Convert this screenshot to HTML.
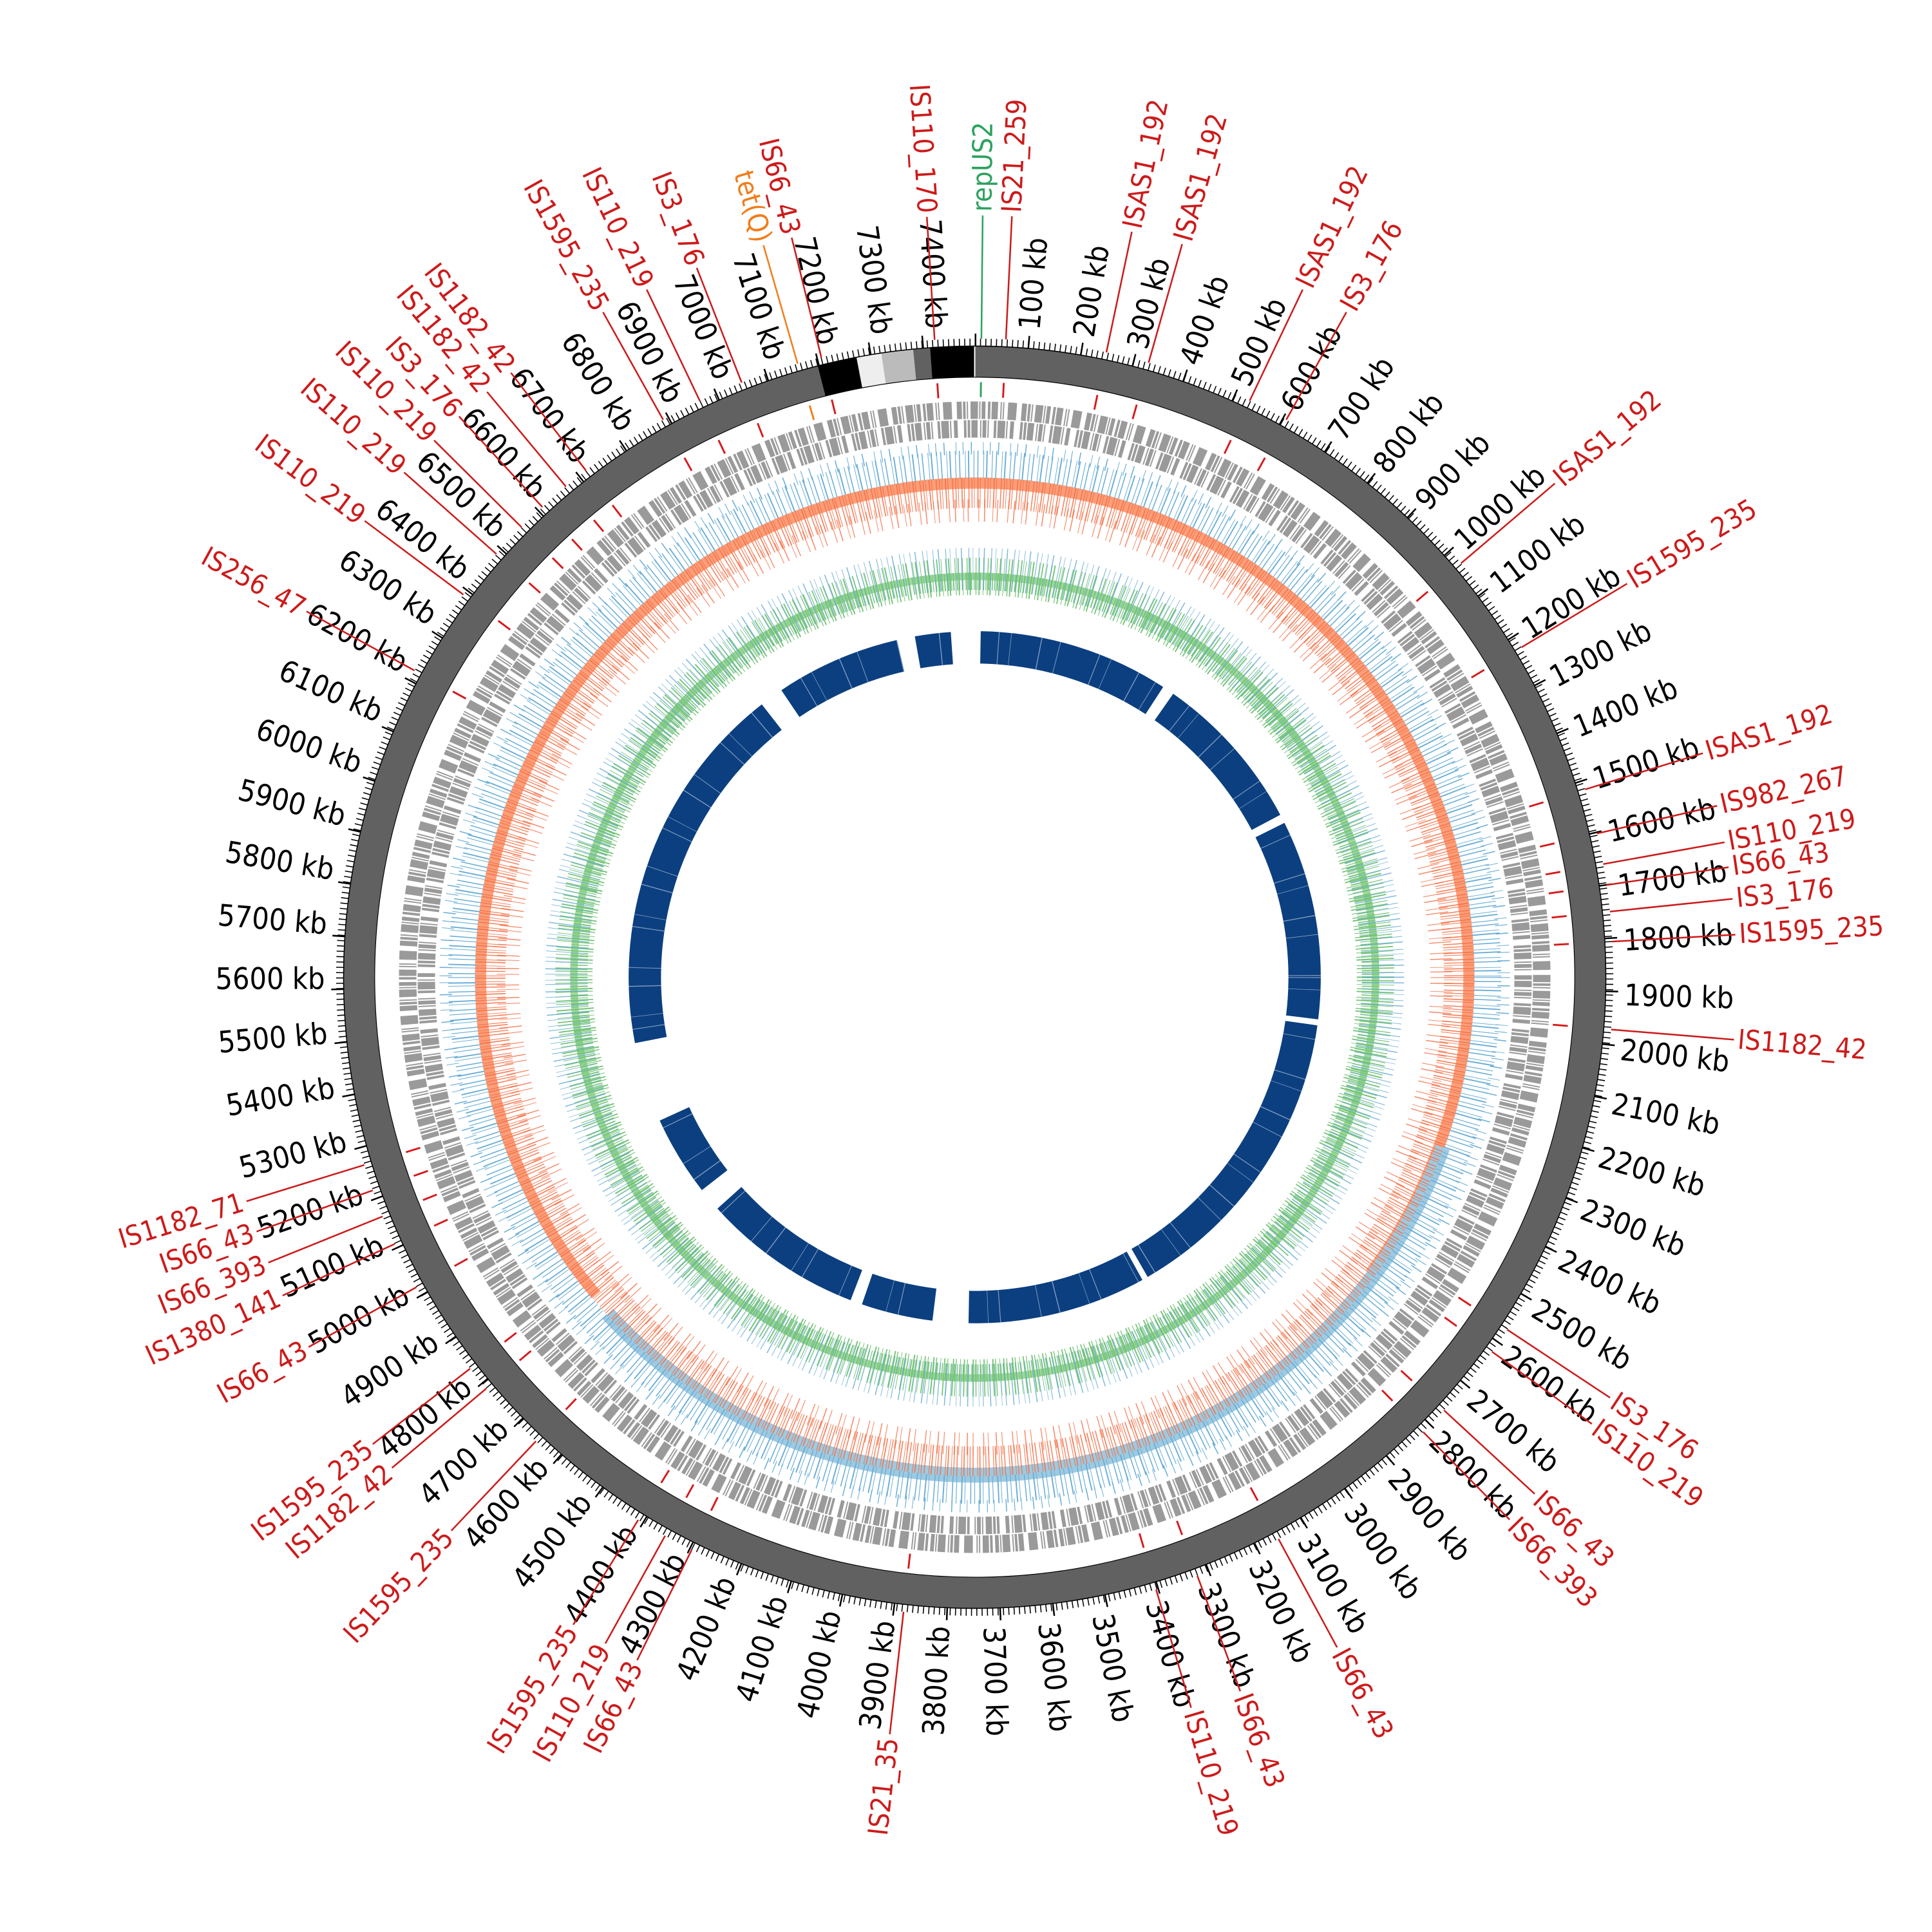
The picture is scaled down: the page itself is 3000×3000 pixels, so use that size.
<!DOCTYPE html>
<html><head><meta charset="utf-8">
<style>
html,body{margin:0;padding:0;background:#fff;}
svg{display:block;}
text{font-family:"DejaVu Sans Condensed","Liberation Sans Narrow","Liberation Sans",sans-serif;dominant-baseline:central;}
.t{font-size:24px;fill:#000;}
.s{font-size:22px;fill:#cc1b1b;}
.ld{stroke:#cc1b1b;stroke-width:1.3;}
.mk{stroke:#d7191c;stroke-width:1.5;}
</style></head>
<body>
<svg width="3000" height="3000" viewBox="0 0 1552 1552" xmlns="http://www.w3.org/2000/svg">
<rect width="1552" height="1552" fill="#fff"/>
<g transform="translate(783,785)">
 <!-- navy track -->
 <circle r="265" fill="none" stroke="#0b3f80" stroke-width="26" transform="rotate(-89)" stroke-dasharray="148 9.25 124.9 6.94 154.9 4.63 240.5 4.63 138.8 27.75 55.5 9.25 124.9 18.5 62.4 62.4 291.4 18.5 97.1 13.9 27.75 23.1"/>
 <circle r="265" fill="none" stroke="#fff" stroke-width="26" stroke-dasharray="0.6 9 0.4 23 0.7 14 0.5 31" opacity="0.5"/>
 <!-- green track -->
 <circle r="322" fill="none" stroke="#a1d99b" stroke-width="6"/>
 <circle r="322" fill="none" stroke="#74c476" stroke-width="30" stroke-dasharray="0.6 1.8 0.9 2.6 0.5 3 0.7 1.4 1 4"/>
 <circle r="318" fill="none" stroke="#74c476" stroke-width="14" stroke-dasharray="0.8 1.2 0.6 1.5 1 2"/>
 <circle r="328" fill="none" stroke="#6baed6" stroke-width="34" stroke-dasharray="0.5 3.5 0.8 5 0.6 2.8 0.4 4.2" opacity="0.85"/>
 <!-- orange/blue track -->
 <circle r="397" fill="none" stroke="#fc8d62" stroke-width="9" transform="rotate(140)" stroke-dasharray="1779 1000" opacity="0.85"/>
 <circle r="400" fill="none" stroke="#9ecae1" stroke-width="12" transform="rotate(20)" stroke-dasharray="820 3000"/>
 <circle r="389" fill="none" stroke="#f46d43" stroke-width="24" stroke-dasharray="0.7 1.3 0.5 2.2 0.9 1.1 0.6 3 0.8 1.7" opacity="0.85"/>
 <circle r="375" fill="none" stroke="#f46d43" stroke-width="18" stroke-dasharray="0.6 4 0.8 6 0.5 3 0.7 8" opacity="0.8"/>
 <circle r="412" fill="none" stroke="#6baed6" stroke-width="22" stroke-dasharray="0.6 2.5 0.8 4 0.5 1.8 1 3.5"/>
 <circle r="425" fill="none" stroke="#6baed6" stroke-width="10" stroke-dasharray="0.6 6 0.8 9 0.5 5"/>
 <!-- gene tracks -->
 <circle r="455.5" fill="none" stroke="#9a9a9a" stroke-width="14" stroke-dasharray="4 1 2 1 1 2 6 1 1 1 3 2 2 1 5 2 1 1 1 3 7 4"/>
 <circle r="440.5" fill="none" stroke="#9a9a9a" stroke-width="14" stroke-dasharray="2 1 5 2 1 1 3 1 1 4 2 1 6 1 1 2 3 5 2 1"/>
 <!-- outer ring -->
 <circle r="494.5" fill="none" stroke="#616161" stroke-width="25"/>
 <circle r="494.5" fill="none" stroke="#000" stroke-width="25" transform="rotate(-104.4)" stroke-dasharray="31.07 5000"/>
 <circle r="494.5" fill="none" stroke="#eeeeee" stroke-width="25" transform="rotate(-100.8)" stroke-dasharray="19.85 5000"/>
 <circle r="494.5" fill="none" stroke="#bbbbbb" stroke-width="25" transform="rotate(-98.5)" stroke-dasharray="25.03 5000"/>
 <circle r="494.5" fill="none" stroke="#000" stroke-width="25" transform="rotate(-94.05)" stroke-dasharray="34.95 5000"/>
 <line x1="0" y1="-482" x2="0" y2="-507" stroke="#fff" stroke-width="1"/>
 <circle r="507" fill="none" stroke="#000" stroke-width="0.8"/>
 <circle r="482" fill="none" stroke="#000" stroke-width="0.6"/>
 <!-- ticks -->
 <circle r="510" fill="none" stroke="#000" stroke-width="6" transform="rotate(-90)" stroke-dasharray="0.8 3.4897"/>
 <circle r="512" fill="none" stroke="#000" stroke-width="10" transform="rotate(-90)" stroke-dasharray="1.3 41.597"/>

 <!-- tick labels right -->
 <g transform="rotate(-85.18)"><text class="t" x="522">100 kb</text></g>
 <g transform="rotate(-80.36)"><text class="t" x="522">200 kb</text></g>
 <g transform="rotate(-75.54)"><text class="t" x="522">300 kb</text></g>
 <g transform="rotate(-70.72)"><text class="t" x="522">400 kb</text></g>
 <g transform="rotate(-65.9)"><text class="t" x="522">500 kb</text></g>
 <g transform="rotate(-61.08)"><text class="t" x="522">600 kb</text></g>
 <g transform="rotate(-56.26)"><text class="t" x="522">700 kb</text></g>
 <g transform="rotate(-51.45)"><text class="t" x="522">800 kb</text></g>
 <g transform="rotate(-46.63)"><text class="t" x="522">900 kb</text></g>
 <g transform="rotate(-41.81)"><text class="t" x="522">1000 kb</text></g>
 <g transform="rotate(-36.99)"><text class="t" x="522">1100 kb</text></g>
 <g transform="rotate(-32.17)"><text class="t" x="522">1200 kb</text></g>
 <g transform="rotate(-27.35)"><text class="t" x="522">1300 kb</text></g>
 <g transform="rotate(-22.53)"><text class="t" x="522">1400 kb</text></g>
 <g transform="rotate(-17.71)"><text class="t" x="522">1500 kb</text></g>
 <g transform="rotate(-12.89)"><text class="t" x="522">1600 kb</text></g>
 <g transform="rotate(-8.07)"><text class="t" x="522">1700 kb</text></g>
 <g transform="rotate(-3.25)"><text class="t" x="522">1800 kb</text></g>
 <g transform="rotate(1.57)"><text class="t" x="522">1900 kb</text></g>
 <g transform="rotate(6.39)"><text class="t" x="522">2000 kb</text></g>
 <g transform="rotate(11.21)"><text class="t" x="522">2100 kb</text></g>
 <g transform="rotate(16.02)"><text class="t" x="522">2200 kb</text></g>
 <g transform="rotate(20.84)"><text class="t" x="522">2300 kb</text></g>
 <g transform="rotate(25.66)"><text class="t" x="522">2400 kb</text></g>
 <g transform="rotate(30.48)"><text class="t" x="522">2500 kb</text></g>
 <g transform="rotate(35.3)"><text class="t" x="522">2600 kb</text></g>
 <g transform="rotate(40.12)"><text class="t" x="522">2700 kb</text></g>
 <g transform="rotate(44.94)"><text class="t" x="522">2800 kb</text></g>
 <g transform="rotate(49.76)"><text class="t" x="522">2900 kb</text></g>
 <g transform="rotate(54.58)"><text class="t" x="522">3000 kb</text></g>
 <g transform="rotate(59.4)"><text class="t" x="522">3100 kb</text></g>
 <g transform="rotate(64.22)"><text class="t" x="522">3200 kb</text></g>
 <g transform="rotate(69.04)"><text class="t" x="522">3300 kb</text></g>
 <g transform="rotate(73.86)"><text class="t" x="522">3400 kb</text></g>
 <g transform="rotate(78.68)"><text class="t" x="522">3500 kb</text></g>
 <g transform="rotate(83.49)"><text class="t" x="522">3600 kb</text></g>
 <g transform="rotate(88.31)"><text class="t" x="522">3700 kb</text></g>
 <!-- tick labels left -->
 <g transform="rotate(93.13)"><text class="t" transform="translate(522,0) rotate(180)" text-anchor="end">3800 kb</text></g>
 <g transform="rotate(97.95)"><text class="t" transform="translate(522,0) rotate(180)" text-anchor="end">3900 kb</text></g>
 <g transform="rotate(102.77)"><text class="t" transform="translate(522,0) rotate(180)" text-anchor="end">4000 kb</text></g>
 <g transform="rotate(107.59)"><text class="t" transform="translate(522,0) rotate(180)" text-anchor="end">4100 kb</text></g>
 <g transform="rotate(112.41)"><text class="t" transform="translate(522,0) rotate(180)" text-anchor="end">4200 kb</text></g>
 <g transform="rotate(117.23)"><text class="t" transform="translate(522,0) rotate(180)" text-anchor="end">4300 kb</text></g>
 <g transform="rotate(122.05)"><text class="t" transform="translate(522,0) rotate(180)" text-anchor="end">4400 kb</text></g>
 <g transform="rotate(126.87)"><text class="t" transform="translate(522,0) rotate(180)" text-anchor="end">4500 kb</text></g>
 <g transform="rotate(131.69)"><text class="t" transform="translate(522,0) rotate(180)" text-anchor="end">4600 kb</text></g>
 <g transform="rotate(136.51)"><text class="t" transform="translate(522,0) rotate(180)" text-anchor="end">4700 kb</text></g>
 <g transform="rotate(141.33)"><text class="t" transform="translate(522,0) rotate(180)" text-anchor="end">4800 kb</text></g>
 <g transform="rotate(146.15)"><text class="t" transform="translate(522,0) rotate(180)" text-anchor="end">4900 kb</text></g>
 <g transform="rotate(150.97)"><text class="t" transform="translate(522,0) rotate(180)" text-anchor="end">5000 kb</text></g>
 <g transform="rotate(155.78)"><text class="t" transform="translate(522,0) rotate(180)" text-anchor="end">5100 kb</text></g>
 <g transform="rotate(160.6)"><text class="t" transform="translate(522,0) rotate(180)" text-anchor="end">5200 kb</text></g>
 <g transform="rotate(165.42)"><text class="t" transform="translate(522,0) rotate(180)" text-anchor="end">5300 kb</text></g>
 <g transform="rotate(170.24)"><text class="t" transform="translate(522,0) rotate(180)" text-anchor="end">5400 kb</text></g>
 <g transform="rotate(175.06)"><text class="t" transform="translate(522,0) rotate(180)" text-anchor="end">5500 kb</text></g>
 <g transform="rotate(179.88)"><text class="t" transform="translate(522,0) rotate(180)" text-anchor="end">5600 kb</text></g>
 <g transform="rotate(184.7)"><text class="t" transform="translate(522,0) rotate(180)" text-anchor="end">5700 kb</text></g>
 <g transform="rotate(189.52)"><text class="t" transform="translate(522,0) rotate(180)" text-anchor="end">5800 kb</text></g>
 <g transform="rotate(194.34)"><text class="t" transform="translate(522,0) rotate(180)" text-anchor="end">5900 kb</text></g>
 <g transform="rotate(199.16)"><text class="t" transform="translate(522,0) rotate(180)" text-anchor="end">6000 kb</text></g>
 <g transform="rotate(203.98)"><text class="t" transform="translate(522,0) rotate(180)" text-anchor="end">6100 kb</text></g>
 <g transform="rotate(208.8)"><text class="t" transform="translate(522,0) rotate(180)" text-anchor="end">6200 kb</text></g>
 <g transform="rotate(213.62)"><text class="t" transform="translate(522,0) rotate(180)" text-anchor="end">6300 kb</text></g>
 <g transform="rotate(218.44)"><text class="t" transform="translate(522,0) rotate(180)" text-anchor="end">6400 kb</text></g>
 <g transform="rotate(223.25)"><text class="t" transform="translate(522,0) rotate(180)" text-anchor="end">6500 kb</text></g>
 <g transform="rotate(228.07)"><text class="t" transform="translate(522,0) rotate(180)" text-anchor="end">6600 kb</text></g>
 <g transform="rotate(232.89)"><text class="t" transform="translate(522,0) rotate(180)" text-anchor="end">6700 kb</text></g>
 <g transform="rotate(237.71)"><text class="t" transform="translate(522,0) rotate(180)" text-anchor="end">6800 kb</text></g>
 <g transform="rotate(242.53)"><text class="t" transform="translate(522,0) rotate(180)" text-anchor="end">6900 kb</text></g>
 <g transform="rotate(247.35)"><text class="t" transform="translate(522,0) rotate(180)" text-anchor="end">7000 kb</text></g>
 <g transform="rotate(252.17)"><text class="t" transform="translate(522,0) rotate(180)" text-anchor="end">7100 kb</text></g>
 <g transform="rotate(256.99)"><text class="t" transform="translate(522,0) rotate(180)" text-anchor="end">7200 kb</text></g>
 <g transform="rotate(261.81)"><text class="t" transform="translate(522,0) rotate(180)" text-anchor="end">7300 kb</text></g>
 <g transform="rotate(266.63)"><text class="t" transform="translate(522,0) rotate(180)" text-anchor="end">7400 kb</text></g>

 <!-- feature labels right half -->
 <g transform="rotate(-87.2)"><line class="mk" x1="466" x2="478"/><line class="ld" x1="513" x2="612"/><text class="s" x="615">IS21_259</text></g>
 <g transform="rotate(-89.4)"><line x1="466" x2="478" stroke="#2ca25f" stroke-width="1.5"/><line x1="513" x2="612" stroke="#2ca25f" stroke-width="1.3"/><text class="s" x="615" style="fill:#2ca25f">repUS2</text></g>
 <g transform="rotate(-78.1)"><line class="mk" x1="466" x2="478"/><line class="ld" x1="513" x2="612"/><text class="s" x="615">ISAS1_192</text></g>
 <g transform="rotate(-74.2)"><line class="mk" x1="466" x2="478"/><line class="ld" x1="513" x2="612"/><text class="s" x="615">ISAS1_192</text></g>
 <g transform="rotate(-64.5)"><line class="mk" x1="466" x2="478"/><line class="ld" x1="513" x2="612"/><text class="s" x="615">ISAS1_192</text></g>
 <g transform="rotate(-60.8)"><line class="mk" x1="466" x2="478"/><line class="ld" x1="513" x2="612"/><text class="s" x="615">IS3_176</text></g>
 <g transform="rotate(-40.4)"><line class="mk" x1="466" x2="478"/><line class="ld" x1="513" x2="612"/><text class="s" x="615">ISAS1_192</text></g>
 <g transform="rotate(-31.1)"><line class="mk" x1="466" x2="478"/><line class="ld" x1="513" x2="612"/><text class="s" x="615">IS1595_235</text></g>
 <g transform="rotate(-17.1)"><line class="mk" x1="466" x2="478"/><line class="ld" x1="513" x2="612"/><text class="s" x="615">ISAS1_192</text></g>
 <g transform="rotate(-13)"><line class="mk" x1="466" x2="478"/><line class="ld" x1="513" x2="612"/><text class="s" x="615">IS982_267</text></g>
 <g transform="rotate(-10.2)"><line class="mk" x1="466" x2="478"/><line class="ld" x1="513" x2="612"/><text class="s" x="615">IS110_219</text></g>
 <g transform="rotate(-8.3)"><line class="mk" x1="466" x2="478"/><line class="ld" x1="513" x2="612"/><text class="s" x="615">IS66_43</text></g>
 <g transform="rotate(-5.9)"><line class="mk" x1="466" x2="478"/><line class="ld" x1="513" x2="612"/><text class="s" x="615">IS3_176</text></g>
 <g transform="rotate(-3.2)"><line class="mk" x1="466" x2="478"/><line class="ld" x1="513" x2="612"/><text class="s" x="615">IS1595_235</text></g>
 <g transform="rotate(4.7)"><line class="mk" x1="466" x2="478"/><line class="ld" x1="513" x2="612"/><text class="s" x="615">IS1182_42</text></g>
 <g transform="rotate(33.5)"><line class="mk" x1="466" x2="478"/><line class="ld" x1="513" x2="612"/><text class="s" x="615">IS3_176</text></g>
 <g transform="rotate(35.9)"><line class="mk" x1="466" x2="478"/><line class="ld" x1="513" x2="612"/><text class="s" x="615">IS110_219</text></g>
 <g transform="rotate(42.7)"><line class="mk" x1="466" x2="478"/><line class="ld" x1="513" x2="612"/><text class="s" x="615">IS66_43</text></g>
 <g transform="rotate(45.4)"><line class="mk" x1="466" x2="478"/><line class="ld" x1="513" x2="612"/><text class="s" x="615">IS66_393</text></g>
 <g transform="rotate(61.6)"><line class="mk" x1="466" x2="478"/><line class="ld" x1="513" x2="612"/><text class="s" x="615">IS66_43</text></g>
 <g transform="rotate(69.6)"><line class="mk" x1="466" x2="478"/><line class="ld" x1="513" x2="612"/><text class="s" x="615">IS66_43</text></g>
 <g transform="rotate(73.5)"><line class="mk" x1="466" x2="478"/><line class="ld" x1="513" x2="612"/><text class="s" x="615">IS110_219</text></g>
 <!-- feature labels left half -->
 <g transform="rotate(96.4)"><line class="mk" x1="466" x2="478"/><line class="ld" x1="513" x2="612"/><text class="s" transform="translate(615,0) rotate(180)" text-anchor="end">IS21_35</text></g>
 <g transform="rotate(116.3)"><line class="mk" x1="466" x2="478"/><line class="ld" x1="513" x2="612"/><text class="s" transform="translate(615,0) rotate(180)" text-anchor="end">IS66_43</text></g>
 <g transform="rotate(119)"><line class="mk" x1="466" x2="478"/><line class="ld" x1="513" x2="612"/><text class="s" transform="translate(615,0) rotate(180)" text-anchor="end">IS110_219</text></g>
 <g transform="rotate(121.8)"><line class="mk" x1="466" x2="478"/><line class="ld" x1="513" x2="612"/><text class="s" transform="translate(615,0) rotate(180)" text-anchor="end">IS1595_235</text></g>
 <g transform="rotate(133.4)"><line class="mk" x1="466" x2="478"/><line class="ld" x1="513" x2="612"/><text class="s" transform="translate(615,0) rotate(180)" text-anchor="end">IS1595_235</text></g>
 <g transform="rotate(139.9)"><line class="mk" x1="466" x2="478"/><line class="ld" x1="513" x2="612"/><text class="s" transform="translate(615,0) rotate(180)" text-anchor="end">IS1182_42</text></g>
 <g transform="rotate(142.2)"><line class="mk" x1="466" x2="478"/><line class="ld" x1="513" x2="612"/><text class="s" transform="translate(615,0) rotate(180)" text-anchor="end">IS1595_235</text></g>
 <g transform="rotate(150.96)"><line class="mk" x1="466" x2="478"/><line class="ld" x1="513" x2="612"/><text class="s" transform="translate(615,0) rotate(180)" text-anchor="end">IS66_43</text></g>
 <g transform="rotate(155.3)"><line class="mk" x1="466" x2="478"/><line class="ld" x1="513" x2="612"/><text class="s" transform="translate(615,0) rotate(180)" text-anchor="end">IS1380_141</text></g>
 <g transform="rotate(158)"><line class="mk" x1="466" x2="478"/><line class="ld" x1="513" x2="612"/><text class="s" transform="translate(615,0) rotate(180)" text-anchor="end">IS66_393</text></g>
 <g transform="rotate(160.5)"><line class="mk" x1="466" x2="478"/><line class="ld" x1="513" x2="612"/><text class="s" transform="translate(615,0) rotate(180)" text-anchor="end">IS66_43</text></g>
 <g transform="rotate(162.9)"><line class="mk" x1="466" x2="478"/><line class="ld" x1="513" x2="612"/><text class="s" transform="translate(615,0) rotate(180)" text-anchor="end">IS1182_71</text></g>
 <g transform="rotate(208.7)"><line class="mk" x1="466" x2="478"/><line class="ld" x1="513" x2="612"/><text class="s" transform="translate(615,0) rotate(180)" text-anchor="end">IS256_47</text></g>
 <g transform="rotate(216.8)"><line class="mk" x1="466" x2="478"/><line class="ld" x1="513" x2="612"/><text class="s" transform="translate(615,0) rotate(180)" text-anchor="end">IS110_219</text></g>
 <g transform="rotate(221.5)"><line class="mk" x1="466" x2="478"/><line class="ld" x1="513" x2="612"/><text class="s" transform="translate(615,0) rotate(180)" text-anchor="end">IS110_219</text></g>
 <g transform="rotate(224.8)"><line class="mk" x1="466" x2="478"/><line class="ld" x1="513" x2="612"/><text class="s" transform="translate(615,0) rotate(180)" text-anchor="end">IS110_219</text></g>
 <g transform="rotate(227.4)"><line class="mk" x1="466" x2="478"/><line class="ld" x1="513" x2="612"/><text class="s" transform="translate(615,0) rotate(180)" text-anchor="end">IS3_176</text></g>
 <g transform="rotate(230.2)"><line class="mk" x1="466" x2="478"/><line class="ld" x1="513" x2="612"/><text class="s" transform="translate(615,0) rotate(180)" text-anchor="end">IS1182_42</text></g>
 <g transform="rotate(232.5)"><line class="mk" x1="466" x2="478"/><line class="ld" x1="513" x2="612"/><text class="s" transform="translate(615,0) rotate(180)" text-anchor="end">IS1182_42</text></g>
 <g transform="rotate(240.8)"><line class="mk" x1="466" x2="478"/><line class="ld" x1="513" x2="612"/><text class="s" transform="translate(615,0) rotate(180)" text-anchor="end">IS1595_235</text></g>
 <g transform="rotate(244.5)"><line class="mk" x1="466" x2="478"/><line class="ld" x1="513" x2="612"/><text class="s" transform="translate(615,0) rotate(180)" text-anchor="end">IS110_219</text></g>
 <g transform="rotate(248.6)"><line class="mk" x1="466" x2="478"/><line class="ld" x1="513" x2="612"/><text class="s" transform="translate(615,0) rotate(180)" text-anchor="end">IS3_176</text></g>
 <g transform="rotate(253.9)"><line x1="466" x2="478" stroke="#f07d1a" stroke-width="1.5"/><line x1="513" x2="612" stroke="#f07d1a" stroke-width="1.3"/><text class="s" transform="translate(615,0) rotate(180)" text-anchor="end" style="fill:#f07d1a">tet(Q)</text></g>
 <g transform="rotate(256.1)"><line class="mk" x1="466" x2="478"/><line class="ld" x1="513" x2="612"/><text class="s" transform="translate(615,0) rotate(180)" text-anchor="end">IS66_43</text></g>
 <g transform="rotate(266.4)"><line class="mk" x1="466" x2="478"/><line class="ld" x1="513" x2="612"/><text class="s" transform="translate(615,0) rotate(180)" text-anchor="end">IS110_170</text></g>
</g>
</svg>
</body></html>
